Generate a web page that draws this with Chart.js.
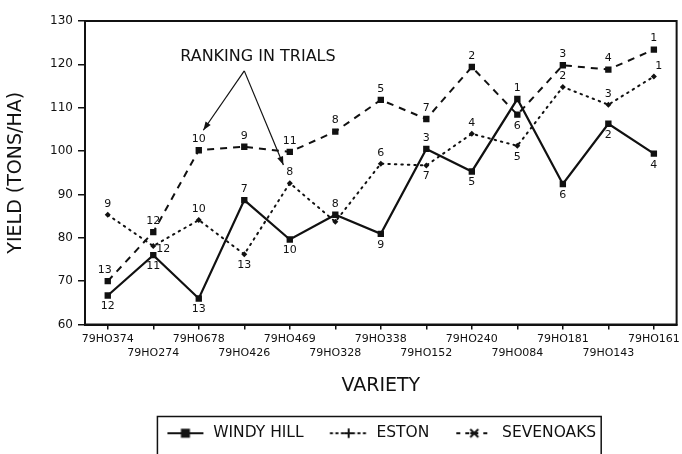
<!DOCTYPE html>
<html><head><meta charset="utf-8">
<script src="https://cdn.jsdelivr.net/npm/chart.js@4/dist/chart.umd.min.js"></script>
<style>html,body{margin:0;padding:0;background:#fff}#wrap{width:682px;height:454px;position:relative}</style>
</head><body><div id="wrap"><canvas id="c"></canvas></div>
<script>
const varieties = ['79HO374','79HO274','79HO678','79HO426','79HO469','79HO328','79HO338','79HO152','79HO240','79HO084','79HO181','79HO143','79HO161'];
const windyHill = [66.7,76.0,66.0,88.7,79.6,85.3,80.9,100.5,95.3,112.0,92.4,106.3,99.4];
const eston = [85.3,78.1,84.1,76.2,92.6,83.7,97.1,96.7,104.0,101.2,114.8,110.7,117.2];
const sevenoaks = [70.0,81.3,100.2,101.0,99.8,104.5,111.8,107.4,119.4,108.4,119.8,118.8,123.4];
const windyRank = [12,11,13,7,10,8,9,3,5,1,6,2,4];
const estonRank = [9,12,10,13,8,null,6,7,4,5,2,3,1];
const sevenoaksRank = [13,12,10,9,11,8,5,7,2,6,3,4,1];
const seriesNames = ['WINDY HILL','ESTON','SEVENOAKS'];
const yMin = 60, yMax = 130, yStep = 10;
const annotationText = 'RANKING IN TRIALS';

const FONT = '"DejaVu Sans", sans-serif';
const INK = '#111';

// label placement (style): a = above, b = below, r = right, ur = upper right, ul = upper left
const windyPos = ['b','b','b','a','b','a','b','a','b','a','b','b','b'];
const estonPos = ['a','r','a','b','a','a','a','b','a','b','a','a','ur'];
const sevenPos = ['ul','a','a','a','a','a','a','a','a','b','a','a','a'];

function legendIcon(dash, style, radius) {
  const cv = document.createElement('canvas');
  cv.width = 40; cv.height = 12;
  const c = cv.getContext('2d');
  c.strokeStyle = INK; c.fillStyle = INK; c.lineWidth = 2;
  c.setLineDash(dash); c.lineCap = dash.length && dash[0] <= 1.5 ? 'round' : 'butt';
  c.beginPath(); c.moveTo(2, 6); c.lineTo(38, 6); c.stroke();
  c.setLineDash([]);
  if (style === 'rect') { c.fillRect(20 - radius, 6 - radius, radius * 2, radius * 2); }
  else if (style === 'plus') {
    c.lineWidth = 2;
    c.beginPath(); c.moveTo(20 - radius, 6); c.lineTo(20 + radius, 6); c.moveTo(20, 6 - radius); c.lineTo(20, 6 + radius); c.stroke();
  } else if (style === 'star') {
    c.lineWidth = 2;
    c.beginPath();
    c.moveTo(20 - radius, 6 - radius); c.lineTo(20 + radius, 6 + radius);
    c.moveTo(20 + radius, 6 - radius); c.lineTo(20 - radius, 6 + radius);
    c.moveTo(20 - radius, 6); c.lineTo(20 + radius, 6);
    c.stroke();
  }
  return cv;
}

const rankPlugin = {
  id: 'ranks',
  afterDatasetsDraw(chart) {
    const ctx = chart.ctx;
    ctx.save();
    ctx.fillStyle = INK;
    ctx.font = '11px ' + FONT;
    ctx.textAlign = 'center';
    ctx.textBaseline = 'middle';
    chart.data.datasets.forEach((ds, di) => {
      const meta = chart.getDatasetMeta(di);
      meta.data.forEach((pt, i) => {
        const r = ds.ranks[i];
        if (r === null || r === undefined) return;
        const p = ds.rankPos[i];
        let x = pt.x, y = pt.y;
        if (p === 'a') y -= 11;
        else if (p === 'b') y += 11;
        else if (p === 'r') { x += 10; y += 3; }
        else if (p === 'ur') { x += 5; y -= 10; }
        else if (p === 'ul') { x -= 3; y -= 11; }
        ctx.fillText(String(r), x, y);
      });
    });
    ctx.restore();
  }
};

const framePlugin = {
  id: 'frame',
  afterDraw(chart) {
    const ctx = chart.ctx;
    const a = chart.chartArea;
    ctx.save();
    ctx.strokeStyle = INK;
    ctx.lineWidth = 2;
    ctx.strokeRect(a.left, a.top, a.right - a.left, a.bottom - a.top);
    // legend box
    const lg = chart.legend;
    if (lg && lg.legendHitBoxes && lg.legendHitBoxes.length) {
      let minX = Infinity, maxX = -Infinity, minY = Infinity, maxY = -Infinity;
      lg.legendHitBoxes.forEach(b => {
        minX = Math.min(minX, b.left); maxX = Math.max(maxX, b.left + b.width);
        minY = Math.min(minY, b.top); maxY = Math.max(maxY, b.top + b.height);
      });
      ctx.lineWidth = 1.5;
      ctx.strokeRect(minX - 8, minY - 9, (maxX - minX) + 13, (maxY - minY) + 24);
    }
    // annotation
    const xs = chart.scales.x, ys = chart.scales.y;
    const tx = xs.getPixelForValue(3.3), ty = ys.getPixelForValue(121.8);
    ctx.fillStyle = INK;
    ctx.font = '16px ' + FONT;
    ctx.textAlign = 'center'; ctx.textBaseline = 'middle';
    ctx.fillText(annotationText, tx, ty);
    const ox = xs.getPixelForValue(3.0), oy = ys.getPixelForValue(118.5);
    const tips = [[2.1, 104.8], [3.86, 96.8]];
    ctx.lineWidth = 1.2;
    tips.forEach(([ti, tv]) => {
      const ex = xs.getPixelForValue(ti), ey = ys.getPixelForValue(tv);
      ctx.beginPath(); ctx.moveTo(ox, oy); ctx.lineTo(ex, ey); ctx.stroke();
      const ang = Math.atan2(ey - oy, ex - ox);
      const L = 9, W = 0.35;
      ctx.beginPath();
      ctx.moveTo(ex, ey);
      ctx.lineTo(ex - L * Math.cos(ang - W), ey - L * Math.sin(ang - W));
      ctx.lineTo(ex - L * Math.cos(ang + W), ey - L * Math.sin(ang + W));
      ctx.closePath(); ctx.fill();
    });
    ctx.restore();
  }
};

new Chart(document.getElementById('c'), {
  type: 'line',
  data: {
    labels: varieties,
    datasets: [
      { label: seriesNames[0], data: windyHill, ranks: windyRank, rankPos: windyPos,
        borderColor: INK, backgroundColor: INK, borderWidth: 2.2, pointStyle: 'rect',
        pointRadius: 4.5, pointBorderWidth: 0, tension: 0 },
      { label: seriesNames[1], data: eston, ranks: estonRank, rankPos: estonPos,
        borderColor: INK, backgroundColor: INK, borderWidth: 2, borderDash: [1.5, 5], borderCapStyle: 'round',
        pointStyle: 'rectRot', pointRadius: 3, pointBorderWidth: 0, tension: 0 },
      { label: seriesNames[2], data: sevenoaks, ranks: sevenoaksRank, rankPos: sevenPos,
        borderColor: INK, backgroundColor: INK, borderWidth: 2, borderDash: [7, 6],
        pointStyle: 'rect', pointRadius: 4.5, pointBorderWidth: 0, tension: 0 }
    ]
  },
  options: {
    responsive: true,
    maintainAspectRatio: false,
    animation: false,
    layout: { padding: { top: 21, right: 2, left: 0, bottom: 3 } },
    plugins: {
      legend: {
        position: 'bottom',
        fullSize: false,
        labels: {
          color: INK,
          font: { family: FONT, size: 15.5 },
          usePointStyle: true,
          pointStyleWidth: 40,
          padding: 25,
          generateLabels(chart) {
            const icons = [legendIcon([], 'rect', 4.5), legendIcon([1.5, 4], 'plus', 4), legendIcon([4, 5], 'star', 4)];
            return chart.data.datasets.map((ds, i) => ({
              text: ds.label, datasetIndex: i, pointStyle: icons[i],
              fillStyle: INK, strokeStyle: INK, lineWidth: 0, hidden: false, fontColor: INK
            }));
          }
        }
      },
      tooltip: { enabled: false }
    },
    scales: {
      x: {
        type: 'category',
        offset: true,
        afterFit(s) { s.height = 76; },
        grid: { display: true, drawOnChartArea: false, drawTicks: true, tickLength: 5, color: INK, tickColor: INK, lineWidth: 1.5 },
        border: { display: true, color: INK, width: 2 },
        ticks: {
          color: INK, padding: 2, maxRotation: 0, autoSkip: false,
          font: { family: FONT, size: 11, lineHeight: 1.3 },
          callback(v, i) { return i % 2 === 0 ? varieties[i] : ['', varieties[i]]; }
        },
        title: { display: true, text: 'VARIETY', color: INK, font: { family: FONT, size: 19 }, padding: { top: 0, bottom: 3 } }
      },
      y: {
        min: yMin, max: yMax,
        afterFit(s) { s.width = 85; },
        grid: { display: true, drawOnChartArea: false, drawTicks: true, tickLength: 7, color: INK, tickColor: INK, lineWidth: 1.5 },
        border: { display: true, color: INK, width: 2 },
        ticks: { stepSize: yStep, color: INK, padding: 5, font: { family: FONT, size: 12 } },
        title: { display: true, text: 'YIELD (TONS/HA)', color: INK, font: { family: FONT, size: 19 }, padding: { top: 5, bottom: 0 } }
      }
    }
  },
  plugins: [rankPlugin, framePlugin]
});
</script>
</body></html>
